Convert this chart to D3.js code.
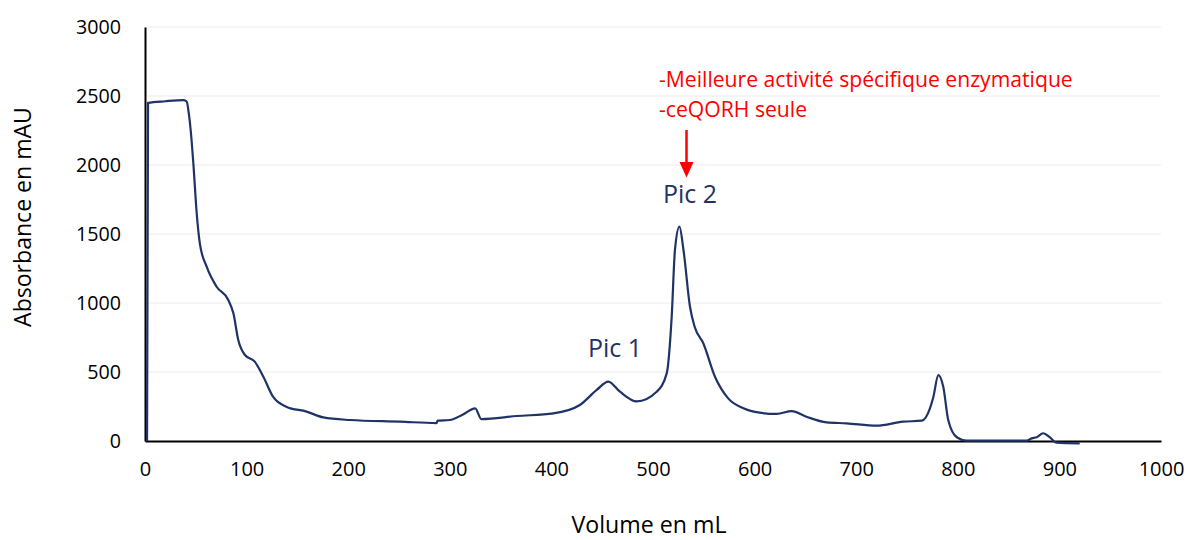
<!DOCTYPE html>
<html><head><meta charset="utf-8">
<script src="https://cdn.jsdelivr.net/npm/d3@7"></script>
<style>body{margin:0;background:#fff}svg{display:block}text{font-family:"Open Sans",sans-serif}</style>
</head><body>
<svg id="c" width="1187" height="540"></svg>
<script>
const volume = [2,3,20,38,41,43,45,47.6,50.9,54,60.7,70.5,82,87,91.8,98.4,108,116.5,126,139,159,175.5,202,251,287,288,300,312,325,331,366,402,428,444.6,456,467.5,484,503.6,513.5,518.4,521.6,526,530,536.4,541,549.5,561,574,589,605,621.7,636.5,651,671,690.6,720,746,764.5,772.6,776,780.8,785.7,790.6,799,808.7,867.8,872.7,877.6,884,890.7,897,920];
const absorbance = [0,2450,2462,2470,2460,2380,2250,2010,1650,1430,1263,1118,1022,925,732,623,575,466,321,249,213,171,152,140,130,147,152,188,237,159,181,200,261,370,430,357,287,357,490,901,1384,1553,1384,973,828,708,466,309,237,205,196,217,176,135,128,111,140,147,237,321,478,393,152,27,2,2,19,27,56,27,-12,-17];
const xTicks = [0,100,200,300,400,500,600,700,800,900,1000];
const yTicks = [0,500,1000,1500,2000,2500,3000];
const peakLabels = ["Pic 1", "Pic 2"];
const noteLines = ["-Meilleure activité spécifique enzymatique", "-ceQORH seule"];

const svg = d3.select("#c");
const x = d3.scaleLinear().domain([0,1000]).range([145,1161]);
const y = d3.scaleLinear().domain([0,3000]).range([441,27]);

function fit(sel, w){
  const n = sel.node(); const fs = parseFloat(sel.attr("font-size"));
  const len = n.getComputedTextLength();
  sel.attr("font-size", (fs*w/len).toFixed(2));
}

// gridlines
svg.append("g").selectAll("line").data(yTicks.filter(d=>d>0)).join("line")
  .attr("x1",x(0)).attr("x2",x(1000)).attr("y1",d=>y(d)).attr("y2",d=>y(d))
  .attr("stroke","#ececec").attr("stroke-width",1);

// axes
const yAxis = svg.append("g").attr("transform",`translate(${x(0)},0)`)
  .call(d3.axisLeft(y).tickValues(yTicks).tickSize(0).tickPadding(24).tickFormat(d3.format("d")));
yAxis.select(".domain").attr("stroke","#000").attr("stroke-width",2);
yAxis.selectAll("text").attr("font-size",19.7).attr("fill","#000").attr("font-family","Open Sans");

const xAxis = svg.append("g").attr("transform",`translate(0,${y(0)})`)
  .call(d3.axisBottom(x).tickValues(xTicks).tickSize(0).tickPadding(21).tickFormat(d3.format("d")));
xAxis.select(".domain").attr("stroke","#000").attr("stroke-width",2);
xAxis.selectAll("text").attr("font-size",20).attr("fill","#000").attr("font-family","Open Sans");

// line
const line = d3.line().x(d=>x(d[0])).y(d=>y(d[1])).curve(d3.curveMonotoneX);
svg.append("path").datum(d3.zip(volume, absorbance)).attr("d", line)
  .attr("fill","none").attr("stroke","#1f3366").attr("stroke-width",2.2).attr("stroke-linejoin","round");

// axis titles
const xt = svg.append("text").attr("x",649).attr("y",533).attr("text-anchor","middle")
  .attr("font-size",20).attr("fill","#000").text("Volume en mL");
fit(xt,155);
const yt = svg.append("text").attr("transform","translate(31,217) rotate(-90)").attr("text-anchor","middle")
  .attr("font-size",20).attr("fill","#000").text("Absorbance en mAU");
fit(yt,220);

// peak labels
const pl = svg.append("g").selectAll("text").data(peakLabels).join("text")
  .attr("x",(d,i)=> i===0 ? 615 : 690).attr("y",(d,i)=> i===0 ? 357 : 203)
  .attr("text-anchor","middle").attr("font-size",23).attr("fill","#1f3366").text(d=>d);
pl.each(function(){ fit(d3.select(this),54); });

// note
const nt = svg.append("g").selectAll("text").data(noteLines).join("text")
  .attr("x",659).attr("y",(d,i)=>87+i*30).attr("font-size",20).attr("fill","#ff0000").text(d=>d);
fit(d3.select(nt.nodes()[0]),414);
d3.select(nt.nodes()[1]).attr("font-size", d3.select(nt.nodes()[0]).attr("font-size"));

// arrow
svg.append("line").attr("x1",686.5).attr("x2",686.5).attr("y1",130).attr("y2",164)
  .attr("stroke","#ff0000").attr("stroke-width",2.5);
svg.append("path").attr("d","M679.5,162 L693.5,162 L686.5,177.5 Z").attr("fill","#ff0000");
</script>
</body></html>
